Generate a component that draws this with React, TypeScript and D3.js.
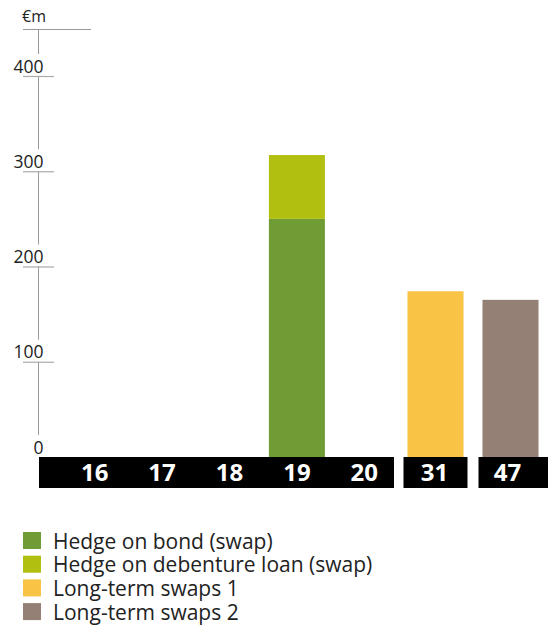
import React from "react";
import * as d3 from "d3";

const W = 548;
const H = 626;

const group1 = ["16", "17", "18", "19", "20"];
const group2 = ["31", "47"];

const bondSwap: Record<string, number> = { "19": 250 };
const debentureSwap: Record<string, number> = { "19": 67 };
const longTerm1: Record<string, number> = { "31": 174 };
const longTerm2: Record<string, number> = { "47": 165 };

const yTicks = [0, 100, 200, 300, 400];
const unitLabel = "€m";

const legendItems = [
  { label: "Hedge on bond (swap)", color: "#6f9c34" },
  { label: "Hedge on debenture loan (swap)", color: "#b1bf10" },
  { label: "Long-term swaps 1", color: "#f9c345" },
  { label: "Long-term swaps 2", color: "#958075" },
];

const FONT = "'Open Sans', 'DejaVu Sans', sans-serif";

export default function App() {
  const y = d3.scaleLinear().domain([0, 400]).range([457, 76]);
  const x1 = d3
    .scaleBand<string>()
    .domain(group1)
    .range([61, 398])
    .paddingInner(0.169)
    .paddingOuter(0.0845);
  const x2 = d3
    .scaleBand<string>()
    .domain(group2)
    .range([398, 548])
    .paddingInner(0.253)
    .paddingOuter(0.1265);

  const axisX = 38.5;
  const topY = 29.5;

  const segs: [number, number][] = [];
  const tickYs = [...yTicks].sort((a, b) => b - a).map((t) => y(t));
  let prev = topY;
  tickYs.forEach((ty) => {
    segs.push([prev, ty - 22]);
    prev = ty;
  });

  const stackBar = (cat: string) => {
    const b = bondSwap[cat] ?? 0;
    const d = debentureSwap[cat] ?? 0;
    return (
      <g key={cat}>
        {b > 0 && (
          <rect x={x1(cat)} width={x1.bandwidth()} y={y(b)} height={y(0) - y(b)} fill={legendItems[0].color} />
        )}
        {d > 0 && (
          <rect x={x1(cat)} width={x1.bandwidth()} y={y(b + d)} height={y(b) - y(b + d)} fill={legendItems[1].color} />
        )}
      </g>
    );
  };

  const bandTop = 457;
  const bandBottom = 488;

  return (
    <div style={{ position: "absolute", left: 0, top: 0 }}>
      <svg width={W} height={H} style={{ display: "block", fontFamily: FONT }}>
        <text x={22} y={21.5} fontSize={16} fill="#222">{unitLabel}</text>
        <line x1={23} x2={91} y1={topY} y2={topY} stroke="#999" strokeWidth={1} />
        {segs.map(([a, b], i) => (
          <line key={i} x1={axisX} x2={axisX} y1={a} y2={b} stroke="#999" strokeWidth={1} />
        ))}
        {yTicks.map((t) => (
          <g key={t}>
            {t > 0 && (
              <line x1={23} x2={54} y1={y(t) + 0.5} y2={y(t) + 0.5} stroke="#aaa" strokeWidth={1.2} />
            )}
            <text x={43.5} y={y(t) - 3.5} fontSize={17.5} textAnchor="end" fill="#222">
              {t}
            </text>
          </g>
        ))}

        {group1.map((c) => stackBar(c))}
        {group2.map((c) => {
          const v1 = longTerm1[c] ?? 0;
          const v2 = longTerm2[c] ?? 0;
          return (
            <g key={c}>
              {v1 > 0 && (
                <rect x={x2(c)} width={x2.bandwidth()} y={y(v1)} height={y(0) - y(v1)} fill={legendItems[2].color} />
              )}
              {v2 > 0 && (
                <rect x={x2(c)} width={x2.bandwidth()} y={y(v2)} height={y(0) - y(v2)} fill={legendItems[3].color} />
              )}
            </g>
          );
        })}

        <rect x={39} y={bandTop} width={394 - 39} height={bandBottom - bandTop} fill="#000" />
        {group2.map((c, i) => {
          const cx = (x2(c) as number) + x2.bandwidth() / 2;
          const bx = cx - 32;
          const bw = i === group2.length - 1 ? W - bx : 64;
          return <rect key={c} x={bx} y={bandTop} width={bw} height={bandBottom - bandTop} fill="#000" />;
        })}
        {group1.map((c) => (
          <text
            key={c}
            x={(x1(c) as number) + x1.bandwidth() / 2}
            y={480.5}
            fontSize={24}
            fontWeight={700}
            textAnchor="middle"
            fill="#fff"
          >
            {c}
          </text>
        ))}
        {group2.map((c, i) => (
          <text
            key={c}
            x={(x2(c) as number) + x2.bandwidth() / 2 - (i === 1 ? 3 : 1)}
            y={480.5}
            fontSize={24}
            fontWeight={700}
            textAnchor="middle"
            fill="#fff"
          >
            {c}
          </text>
        ))}

        {legendItems.map((it, i) => {
          const top = 532 + i * 23.7;
          return (
            <g key={it.label}>
              <rect x={23} y={top} width={18} height={17} fill={it.color} />
              <text x={53} y={top + 16.5} fontSize={21} fill="#222">
                {it.label}
              </text>
            </g>
          );
        })}
      </svg>
    </div>
  );
}
